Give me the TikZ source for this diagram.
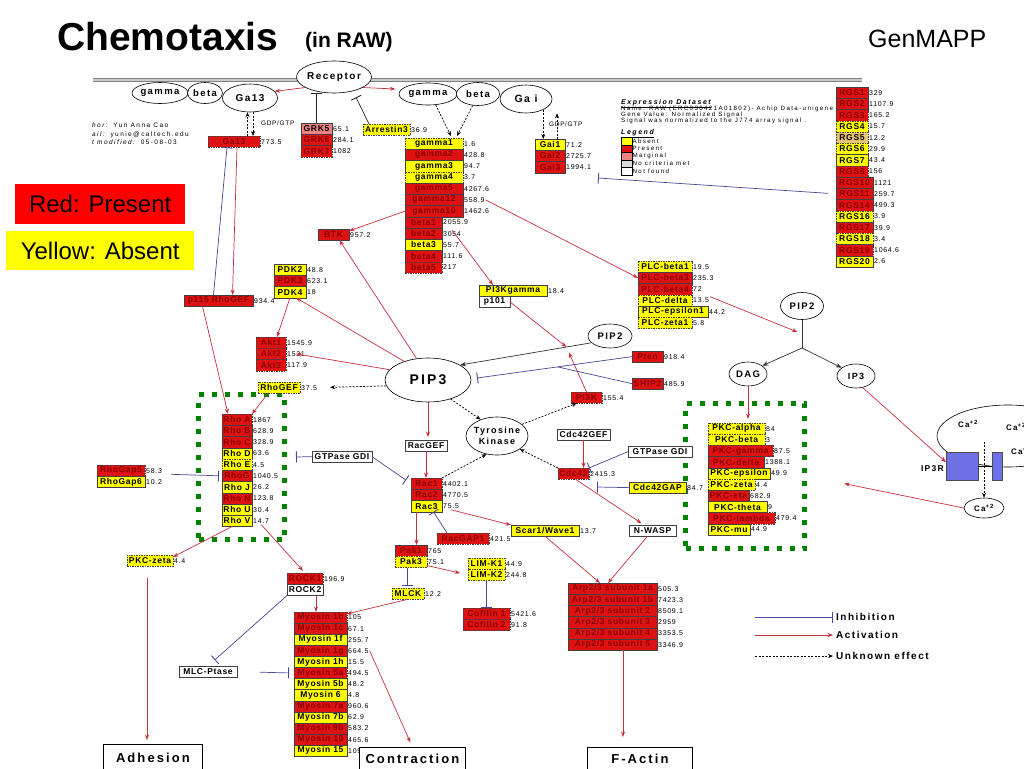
\documentclass[tikz,border=0pt]{standalone}
\usepackage{fontspec}
\setmainfont{Liberation Sans}
\newfontfamily\lab[LetterSpace=8]{Liberation Sans}
\newfontfamily\valf[LetterSpace=10]{Liberation Sans}
\newfontfamily\wide[LetterSpace=15]{Liberation Sans}
\newfontfamily\wider[LetterSpace=16]{Liberation Sans}
\newfontfamily\smallw[LetterSpace=22]{Liberation Sans}
\usetikzlibrary{arrows.meta,shapes.geometric,calc}
\definecolor{pred}{RGB}{222,18,18}
\definecolor{ptext}{RGB}{140,0,0}
\definecolor{yel}{RGB}{255,255,0}
\definecolor{margc}{RGB}{236,130,130}
\definecolor{mytan}{RGB}{232,196,120}
\definecolor{actc}{RGB}{196,48,60}
\definecolor{inhc}{RGB}{72,72,150}
\definecolor{grn}{RGB}{0,130,0}
\definecolor{ip3rc}{RGB}{112,112,230}
\definecolor{membr}{RGB}{130,130,130}
\definecolor{redlegend}{RGB}{255,0,0}
\def\rh{11.25}
\newcommand\gr[8]{%
  \node[gb,#6,minimum width=#5] (#1) at (#2,{#3+\rh*#4}) {#7};%
  \node[val] (#1v) at (#1.east) {#8};}
\begin{document}
\begin{tikzpicture}[x=1pt,y=-1pt,
  gb/.style={draw=black!75, line width=0.5pt, inner sep=0pt, outer sep=0pt, minimum height=\rh, anchor=north west, font=\lab\bfseries\fontsize{8.5}{8.5}\selectfont},
  pres/.style={fill=pred, text=ptext},
  absn/.style={fill=yel, text=black},
  marg/.style={fill=margc, text=black},
  tanc/.style={fill=mytan, text=black},
  wht/.style={fill=white, text=black},
  dsh/.style={dash pattern=on 1.5pt off 1pt},
  val/.style={anchor=west, inner sep=1pt, font=\valf\fontsize{7}{7}\selectfont},
  ell/.style={draw, ellipse, fill=white, inner sep=-3pt, line width=0.6pt, font=\wide\bfseries\fontsize{9.5}{9.5}\selectfont},
  act/.style={draw=actc, line width=0.7pt, -{Stealth[length=5.5pt,width=4pt]}},
  inh/.style={draw=inhc, line width=0.7pt, -{Bar[width=11pt,line width=0.9pt]}},
  inhk/.style={inh, draw=black!85},
  unk/.style={draw=black, line width=0.7pt, dash pattern=on 2pt off 1.5pt, -{Stealth[length=5pt,width=4pt]}},
  cnv/.style={draw=black!80, line width=0.7pt},
  cnva/.style={cnv, -{Stealth[length=6pt,width=4.5pt]}},
  bigbox/.style={draw, line width=0.8pt, fill=white, inner sep=0pt, anchor=north west, font=\wider\bfseries\fontsize{13}{13}\selectfont},
  grnbox/.style={draw=grn, line width=5pt, dash pattern=on 5pt off 8pt, inner sep=0pt, anchor=north west},
  legt/.style={anchor=west, inner sep=0pt, font=\wide\bfseries\fontsize{10}{10}\selectfont},
  small/.style={anchor=base west, inner sep=0pt, font=\smallw\fontsize{6.2}{6.2}\selectfont},
  sw/.style={draw, line width=0.4pt, minimum width=11, minimum height=7.5, inner sep=0pt, anchor=north west}
]
\useasboundingbox (0,0) rectangle (1024,768);
\clip (0,0) rectangle (1024,768);

% ---------- titles ----------
\node[anchor=base west,inner sep=0,font=\bfseries\fontsize{39}{39}\selectfont] (ttl) at (57,51) {Chemotaxis};
\node[anchor=base west,inner sep=0,font=\bfseries\fontsize{21}{21}\selectfont] (sub) at (305,48) {(in RAW)};
\node[anchor=base west,inner sep=0,font=\fontsize{25}{25}\selectfont] (gmp) at (868,48) {GenMAPP};

% ---------- membrane ----------
\coordinate (memL) at (93,80); \coordinate (memR) at (862,80);
\draw[draw=membr, line width=1.1pt, double=black!20, double distance=1.8pt] (memL) -- (memR);

% ---------- author ----------
\node[small,font=\smallw\fontsize{6.5}{6.5}\selectfont] (au1) at (92,127) {\textit{hor:} Yun Anna Cao};
\node[small,font=\smallw\fontsize{6.5}{6.5}\selectfont] (au2) at (92,136) {\textit{ail:} yunie@caltech.edu};
\node[small,font=\smallw\fontsize{6.5}{6.5}\selectfont] (au3) at (92,144) {\textit{t modified:} 05-08-03};

% ---------- colour legend boxes ----------
\node[fill=redlegend, minimum width=170, minimum height=40, anchor=north west, inner sep=0, font=\fontsize{24}{24}\selectfont] (redlg) at (15,184) {Red: Present};
\node[fill=yel, minimum width=188, minimum height=39, anchor=north west, inner sep=0, font=\fontsize{24}{24}\selectfont] (yellg) at (6,231) {Yellow: Absent};

% ---------- expression legend ----------
\node[small,font=\smallw\bfseries\itshape\fontsize{7}{7}\selectfont] (exds) at (621,104) {\underline{Expression Dataset}};
\node[small] (exn) at (621,110) {Name: RAW (ERC030421A01802)- Achip Data-unigene};
\node[small] (exg) at (621,116) {Gene Value: Normalized Signal};
\node[small] (exs) at (621,122) {Signal was normalized to the J774 array signal .};
\node[small,font=\smallw\bfseries\itshape\fontsize{7}{7}\selectfont] (lgd) at (621,134) {\underline{Legend}};
\node[sw,fill=yel] (swA) at (621,137) {};
\node[sw,fill=pred] (swP) at (621,144.5) {};
\node[sw,fill=margc] (swM) at (621,152) {};
\node[sw,fill=black!15] (swN) at (621,159.5) {};
\node[sw,fill=white] (swF) at (621,167) {};
\node[small,anchor=west] (swAt) at (swA.east) {Absent};
\node[small,anchor=west] (swPt) at (swP.east) {Present};
\node[small,anchor=west] (swMt) at (swM.east) {Marginal};
\node[small,anchor=west] (swNt) at (swN.east) {No criteria met};
\node[small,anchor=west] (swFt) at (swF.east) {Not found};

% ---------- ellipses ----------
\node[ell, minimum width=56, minimum height=21] (gamL) at (160,93) {gamma};
\node[ell, minimum width=35, minimum height=21] (betL) at (205,93) {beta};
\node[ell, minimum width=55, minimum height=28, font=\wide\bfseries\fontsize{10}{10}\selectfont] (ga13E) at (250,98) {Ga13};
\node[ell, minimum width=75, minimum height=32, font=\wide\bfseries\fontsize{10}{10}\selectfont] (rec) at (334,77) {Receptor};
\node[ell, minimum width=58, minimum height=22] (gamR) at (428,94) {gamma};
\node[ell, minimum width=43, minimum height=23] (betR) at (478,94) {beta};
\node[ell, minimum width=52, minimum height=28, font=\wide\bfseries\fontsize{10.5}{10.5}\selectfont] (gaiE) at (526,99) {Ga i};
\node[ell, minimum width=86, minimum height=44, font=\wide\bfseries\fontsize{14}{14}\selectfont] (pip3) at (428,380) {PIP3};
\node[ell, minimum width=44, minimum height=24] (pip2m) at (610,336) {PIP2};
\node[ell, minimum width=62, minimum height=38, align=center, font=\wide\bfseries\fontsize{9}{10.5}\selectfont] (tk) at (497,436) {Tyrosine\\Kinase};
\node[ell, minimum width=43, minimum height=27] (pip2R) at (802,306) {PIP2};
\node[ell, minimum width=38, minimum height=24] (dag) at (748,374) {DAG};
\node[ell, minimum width=38, minimum height=24, font=\wide\bfseries\fontsize{9}{9}\selectfont] (ip3) at (856,376) {IP3};

% ---------- green groups ----------
\node[grnbox, minimum width=86, minimum height=145] (grnL) at (196,392) {};
\node[grnbox, minimum width=119, minimum height=145] (grnR) at (683,401) {};

% ---------- gene boxes ----------
\gr{ga13b}{208}{136}{0}{52}{pres,dsh}{Ga13}{773.5}
\gr{grk5}{301}{123}{0}{31}{marg}{GRK5}{65.1}
\gr{grk6}{301}{123}{1}{31}{pres}{GRK6}{284.1}
\gr{grk7}{301}{123}{2}{31}{pres,dsh}{GRK7}{1082}
\gr{arr}{363}{124}{0}{47}{absn,dsh}{Arrestin3}{36.9}

\gr{g1}{405}{138}{0}{58}{absn,dsh}{gamma1}{1.6}
\gr{g2}{405}{138}{1}{58}{pres}{gamma2}{428.8}
\gr{g3}{405}{138}{2}{58}{absn}{gamma3}{94.7}
\gr{g4}{405}{138}{3}{58}{absn,dsh}{gamma4}{3.7}
\gr{g5}{405}{138}{4}{58}{pres}{gamma5}{4267.6}
\gr{g12}{405}{138}{5}{58}{pres}{gamma12}{558.9}
\gr{g10}{405}{138}{6}{58}{pres}{gamma10}{1462.6}
\gr{b1}{405}{138}{7}{37}{pres}{beta1}{2055.9}
\gr{b2}{405}{138}{8}{37}{pres}{beta2}{3054}
\gr{b3}{405}{138}{9}{37}{absn}{beta3}{55.7}
\gr{b4}{405}{138}{10}{37}{pres}{beta4}{111.6}
\gr{b5}{405}{138}{11}{37}{pres,dsh}{beta5}{217}

\gr{gai1}{535}{139}{0}{30}{absn}{Gai1}{71.2}
\gr{gai2}{535}{139}{1}{30}{pres}{Gai2}{2725.7}
\gr{gai3}{535}{139}{2}{30}{pres}{Gai3}{1994.1}

\gr{rgs1}{836}{87}{0}{32}{pres}{RGS1}{329}
\gr{rgs2}{836}{87}{1}{32}{pres}{RGS2}{1107.9}
\gr{rgs3}{836}{87}{2}{32}{pres,dsh}{RGS3}{165.2}
\gr{rgs4}{836}{87}{3}{32}{absn,dsh}{RGS4}{15.7}
\gr{rgs5}{836}{87}{4}{32}{tanc,dsh}{RGS5}{12.2}
\gr{rgs6}{836}{87}{5}{32}{absn,dsh}{RGS6}{29.9}
\gr{rgs7}{836}{87}{6}{32}{absn}{RGS7}{43.4}
\gr{rgs8}{836}{87}{7}{32}{pres,dsh}{RGS8}{156}
\gr{rgs10}{836}{87}{8}{37}{pres}{RGS10}{1121}
\gr{rgs11}{836}{87}{9}{37}{pres}{RGS11}{259.7}
\gr{rgs14}{836}{87}{10}{37}{pres}{RGS14}{499.3}
\gr{rgs16}{836}{87}{11}{37}{absn,dsh}{RGS16}{3.9}
\gr{rgs17}{836}{87}{12}{37}{pres}{RGS17}{39.9}
\gr{rgs18}{836}{87}{13}{37}{absn,dsh}{RGS18}{3.4}
\gr{rgs19}{836}{87}{14}{37}{pres,dsh}{RGS19}{1064.6}
\gr{rgs20}{836}{87}{15}{37}{absn}{RGS20}{2.6}

\gr{btk}{318}{229}{0}{31}{pres}{BTK}{957.2}
\gr{pdk2}{274}{264}{0}{32}{absn}{PDK2}{48.8}
\gr{pdk3}{274}{264}{1}{32}{pres}{PDK3}{623.1}
\gr{pdk4}{274}{264}{2}{32}{absn}{PDK4}{18}
\gr{akt1}{256}{337}{0}{30}{pres,dsh}{Akt1}{1545.9}
\gr{akt2}{256}{337}{1}{30}{pres,dsh}{Akt2}{1521}
\gr{akt3}{256}{337}{2}{30}{pres,dsh}{Akt3}{117.9}
\gr{rhogef}{258}{382}{0}{42}{absn,dsh}{RhoGEF}{37.5}
\gr{p115}{184}{295}{0}{69}{pres}{p115 RhoGEF}{934.4}

\gr{pi3kg}{479}{285}{0}{68}{absn}{PI3Kgamma}{18.4}
\node[gb,wht,minimum width=31] (p101) at (479,296.25) {p101};

\gr{plcb1}{638}{261}{0}{54}{absn,dsh}{PLC-beta1}{19.5}
\gr{plcb3}{638}{261}{1}{54}{pres}{PLC-beta3}{235.3}
\gr{plcb4}{638}{261}{2}{54}{pres,dsh}{PLC-beta4}{72}
\gr{plcd}{638}{261}{3}{54}{absn,dsh}{PLC-delta}{13.5}
\gr{plce}{638}{261}{4}{70}{absn}{PLC-epsilon1}{44.2}
\gr{plcz}{638}{261}{5}{54}{absn,dsh}{PLC-zeta1}{5.8}

\gr{pten}{632}{351}{0}{31}{pres}{Pten}{918.4}
\gr{ship2}{632}{378}{0}{31}{pres}{SHIP2}{485.9}
\gr{pi3k}{571}{392}{0}{31}{pres,dsh}{PI3K}{155.4}

\node[gb,wht,minimum width=42] (racgef) at (405,440) {RacGEF};
\gr{rac1}{411}{478}{0}{31}{pres,dsh}{Rac1}{4402.1}
\gr{rac2}{411}{478}{1}{31}{pres}{Rac2}{4770.5}
\gr{rac3}{411}{478}{2}{31}{absn}{Rac3}{75.5}
\node[gb,wht,minimum width=60] (gdiL) at (312,451) {GTPase GDI};

\node[gb,wht,minimum width=53] (cdc42gef) at (557,429) {Cdc42GEF};
\gr{cdc42}{558}{468}{0}{31}{pres,dsh}{Cdc42}{2415.3}
\node[gb,wht,minimum width=64] (gdiR) at (628,446) {GTPase GDI};
\gr{gap}{629}{482}{0}{57}{absn}{Cdc42GAP}{84.7}
\node[gb,wht,minimum width=47] (nwasp) at (629,525) {N-WASP};

\gr{scar}{511}{525}{0}{68}{absn}{Scar1/Wave1}{13.7}
\gr{racgap}{437}{533}{0}{52}{pres,dsh}{RacGAP1}{421.5}
\gr{pak1}{395}{545}{0}{32}{pres}{Pak1}{765}
\gr{pak3}{395}{545}{1}{32}{absn,dsh}{Pak3}{75.1}
\gr{limk1}{468}{558}{0}{37}{absn,dsh}{LIM-K1}{44.9}
\gr{limk2}{468}{558}{1}{37}{absn,dsh}{LIM-K2}{244.8}
\gr{cof1}{463}{608}{0}{47}{pres,dsh}{Cofilin 1}{5421.6}
\gr{cof2}{463}{608}{1}{47}{pres,dsh}{Cofilin 2}{91.8}
\gr{mlck}{392}{588}{0}{32}{absn,dsh}{MLCK}{12.2}

\gr{rhogap5}{97}{465}{0}{48}{pres,dsh}{RhoGap5}{58.3}
\gr{rhogap6}{97}{465}{1}{48}{absn}{RhoGap6}{10.2}
\gr{rhoA}{222}{414}{0}{30}{pres,dsh}{Rho A}{1867}
\gr{rhoB}{222}{414}{1}{30}{pres}{Rho B}{628.9}
\gr{rhoC}{222}{414}{2}{30}{pres}{Rho C}{328.9}
\gr{rhoD}{222}{414}{3}{30}{absn}{Rho D}{63.6}
\gr{rhoE}{222}{414}{4}{30}{absn,dsh}{Rho E}{4.5}
\gr{rhoG}{222}{414}{5}{30}{pres}{RhoG}{1040.5}
\gr{rhoJ}{222}{414}{6}{30}{absn}{Rho J}{26.2}
\gr{rhoN}{222}{414}{7}{30}{pres}{Rho N}{123.8}
\gr{rhoU}{222}{414}{8}{30}{absn}{Rho U}{30.4}
\gr{rhoV}{222}{414}{9}{30}{absn}{Rho V}{14.7}

\gr{pkcz}{127}{555}{0}{46}{absn,dsh}{PKC-zeta}{4.4}
\gr{rock1}{287}{573}{0}{36}{pres,dsh}{ROCK1}{196.9}
\node[gb,wht,minimum width=36] (rock2) at (287,584.25) {ROCK2};
\node[gb,wht,minimum width=58] (mlc) at (179,666) {MLC-Ptase};

\def\rh{11.1}
\gr{myo1b}{294}{612}{0}{53}{pres,dsh}{Myosin 1b}{105}
\gr{myo1c}{294}{612}{1}{53}{pres}{Myosin 1c}{67.1}
\gr{myo1f}{294}{612}{2}{53}{absn}{Myosin 1f}{255.7}
\gr{myo1g}{294}{612}{3}{53}{pres}{Myosin 1g}{664.5}
\gr{myo1h}{294}{612}{4}{53}{absn}{Myosin 1h}{15.5}
\gr{myo5a}{294}{612}{5}{53}{pres,dsh}{Myosin 5a}{494.5}
\gr{myo5b}{294}{612}{6}{53}{absn}{Myosin 5b}{48.2}
\gr{myo6}{294}{612}{7}{53}{absn}{Myosin 6}{4.8}
\gr{myo7a}{294}{612}{8}{53}{pres}{Myosin 7a}{960.6}
\gr{myo7b}{294}{612}{9}{53}{absn}{Myosin 7b}{62.9}
\gr{myo9b}{294}{612}{10}{53}{pres}{Myosin 9b}{583.2}
\gr{myo10}{294}{612}{11}{53}{pres}{Myosin 10}{465.6}
\gr{myo15}{294}{612}{12}{53}{absn}{Myosin 15}{109.2}

\def\rh{11.2}
\gr{arp1a}{568}{583}{0}{89}{pres}{Arp2/3 subunit 1a}{505.3}
\gr{arp1b}{568}{583}{1}{89}{pres}{Arp2/3 subunit 1b}{7423.3}
\gr{arp2}{568}{583}{2}{89}{pres}{Arp2/3 subunit 2}{8509.1}
\gr{arp3}{568}{583}{3}{89}{pres}{Arp2/3 subunit 3}{2959}
\gr{arp4}{568}{583}{4}{89}{pres}{Arp2/3 subunit 4}{3353.5}
\gr{arp5}{568}{583}{5}{89}{pres}{Arp2/3 subunit 5}{3346.9}

\gr{pkca}{708}{423}{0}{57}{absn,dsh}{PKC-alpha}{84}
\gr{pkcb}{708}{423}{1}{57}{absn,dsh}{PKC-beta}{3}
\gr{pkcg}{708}{423}{2}{65}{pres,dsh}{PKC-gamma}{87.5}
\gr{pkcd}{708}{423}{3}{56}{pres}{PKC-delta}{1388.1}
\gr{pkce}{708}{423}{4}{62}{absn}{PKC-epsilon}{49.9}
\gr{pkczr}{708}{423}{5}{47}{absn,dsh}{PKC-zeta}{4.4}
\gr{pkceta}{708}{423}{6}{41}{pres}{PKC-eta}{682.9}
\gr{pkct}{708}{423}{7}{59}{absn}{PKC-theta}{9}
\gr{pkcl}{708}{423}{8}{67}{pres,dsh}{PKC-lambda}{479.4}
\gr{pkcm}{708}{423}{9}{42}{absn}{PKC-mu}{44.9}
\def\rh{11.25}

% ---------- outcome boxes ----------
\node[bigbox, minimum width=99, minimum height=26] (adh) at (103,744) {Adhesion};
\node[bigbox, minimum width=106, minimum height=22] (contr) at (359,747) {Contraction};
\node[bigbox, minimum width=105, minimum height=22] (fact) at (587,747) {F-Actin};

% ---------- calcium ----------
\node[draw, ellipse, minimum width=142, minimum height=62, inner sep=0, line width=0.6pt] (caE) at (1008,436) {};
\node[draw=black!70, fill=ip3rc, minimum width=32, minimum height=28, anchor=north west, inner sep=0] (ip3r) at (946,452) {};
\node[draw=black!70, fill=ip3rc, minimum width=10, minimum height=28, anchor=north west, inner sep=0] (ip3r2) at (992,452) {};
\draw[line width=0.6pt] (ip3r.east) -- (ip3r2.west);
\node[anchor=east, inner sep=0, font=\wide\bfseries\fontsize{8.5}{8.5}\selectfont] (ip3rt) at (944,469) {IP3R};
\node[inner sep=0, font=\wide\bfseries\fontsize{8}{8}\selectfont] (ca1) at (968,424) {Ca\textsuperscript{+2}};
\node[inner sep=0, font=\wide\bfseries\fontsize{8}{8}\selectfont] (ca2) at (1016,427) {Ca\textsuperscript{+2}};
\node[inner sep=0, font=\wide\bfseries\fontsize{8}{8}\selectfont] (ca3) at (1021,451) {Ca\textsuperscript{+2}};
\node[ell, minimum width=40, minimum height=20, font=\wide\bfseries\fontsize{8}{8}\selectfont] (caS) at (984,508) {Ca\textsuperscript{+2}};

% ---------- GDP/GTP ----------
\node[anchor=west, inner sep=0, font=\valf\fontsize{6.5}{6.5}\selectfont] (gdp1) at (261,123) {GDP/GTP};
\node[anchor=west, inner sep=0, font=\valf\fontsize{6.5}{6.5}\selectfont] (gdp2) at (549,124) {GDP/GTP};

% ---------- connectors ----------
\draw[act] (rec.200) -- (ga13E.15);
\draw[act, shorten >=6pt] (rec.-20) -- (gamR.170);
\draw[inhk] (grk5.north) -- (grk5.north |- rec.south);
\draw[inhk] ([xshift=6pt]arr.north west) -- ([shift={(22,4)}]rec.south);

\draw[unk] (ga13E.-100 |- ga13b.north) -- (ga13E.-100);
\draw[unk] (ga13E.-78) -- (ga13E.-78 |- ga13b.north);
\draw[unk] (gamR.-55) -- ([shift={(17,-2)}]g1.north);
\draw[unk] (betR.-115) -- ([shift={(23,-2)}]g1.north);
\draw[unk] (gaiE.-32) -- (gaiE.-32 |- gai1.north);
\coordinate (gaiup) at ([xshift=22pt]gai1.north west);
\draw[unk] (gaiup) -- (gaiup |- gaiE.south);

\coordinate (rgsbar) at (598,178);
\draw[inh, shorten <=8pt] (rgs11.west) -- (rgsbar);

\draw[inh] ([xshift=-5pt]p115.north) -- ([xshift=-7pt]ga13b.south);
\draw[act] ([xshift=3pt]ga13b.south) -- ([xshift=14pt]p115.north);
\draw[act] ([xshift=-16pt]p115.south) -- ([xshift=6pt]rhoA.north west);
\draw[act] ([xshift=10pt]rhogef.south west) -- (rhoA.north east);

\draw[act] (g10.west) -- (btkv.north west);
\draw[act] (b2v.north) -- ([xshift=14pt]pi3kg.north west);
\draw[act] (g12v.east) -- (plcb3.west);

\draw[cnva] (pip2m.200) -- (pip3.25);
\coordinate (conv) at ($(pip2m.200)!0.19!(pip3.25)$);
\draw[act] (p101.east) -- (conv);
\draw[act, shorten >=6pt] (pi3k.north) -- (conv);

\coordinate (pip3bar) at (477,378);
\draw[inh] (pten.west) -- (pip3bar);
\coordinate (pjunc) at ($(pten.west)!0.48!(pip3bar)$);
\draw[draw=inhc, line width=0.7pt] (ship2.west) -- (pjunc);

\draw[act] (pip3.118) -- ([xshift=6pt]btk.south);
\draw[act] (pip3.142) -- ([xshift=-10pt]pdk4.south east);
\draw[act] (pip3.165) -- (akt2v.center);
\draw[act, shorten >=3pt] (pip3.south) -- (pip3.south |- racgef.north);
\draw[unk, shorten >=12pt] (pip3.188) -- (rhogefv.east);
\draw[act] (pdk4.south) -- ([xshift=6pt]akt1.north);

\draw[unk] (pip3.-40) -- (tk.135);
\draw[unk] (tk.25) -- (pi3k.210);
\draw[unk] (rac1.north east) -- (tk.240);
\draw[unk] (cdc42.north west) -- (tk.-30);

\draw[act] (racgef.south) -- (racgef.south |- rac1.north);
\coordinate (gdibar) at (296,457);
\draw[inh] (gdiL.west) -- (gdibar);
\draw[inh, shorten >=6pt] (gdiL.east) -- (rac1.west);
\draw[inh, shorten >=3pt] ($(rhogap5v.south east)+(8,0)$) -- (rhoG.west);

\draw[act] (cdc42gef.south) -- (cdc42gef.south |- cdc42.north);
\draw[inh] (gdiR.west) -- (cdc42.north east);
\coordinate (gapbar) at (597,487);
\draw[inh] (gap.west) -- (gapbar);
\draw[act, shorten >=3pt] ([xshift=2pt]cdc42.south) -- ([xshift=15pt]nwasp.north west);

\draw[act] (rac3v.south) -- (scar.north west);
\draw[inh] ([xshift=10pt]racgap.north west) -- ([xshift=7pt]rac3.south);
\coordinate (racdn) at ([xshift=-10pt]rac3.south);
\draw[act] (racdn) -- (racdn |- pak1.north);
\draw[act, shorten >=8pt] (pak3v.south west) -- (limk2.west);
\coordinate (pakdn) at ([xshift=-4pt]pak3.south);
\draw[inh, shorten >=2pt] (pakdn) -- (pakdn |- mlck.north);
\draw[inh] (limk2.south) -- (cof1.north);
\draw[act] (mlck.south) -- (myo1bv.north west);

\draw[act, shorten >=3pt] (rhoVv.south) -- (rock1.north);
\draw[act] ([xshift=-5pt]rhoV.south) -- (pkczv.north west);
\coordinate (pkzdn) at ([xshift=-3pt]pkcz.south);
\draw[act, shorten <=12pt, shorten >=4pt] (pkzdn) -- (pkzdn |- adh.north);

\coordinate (rockdn) at ([xshift=11pt]rock2.south);
\draw[act] (rockdn) -- (rockdn |- myo1b.north);
\draw[inh, shorten >=9pt] (rock2.south west) -- (mlc.north);
\draw[inh, shorten <=23pt, shorten >=5pt] (mlc.east) -- (myo5a.west);
\draw[act, shorten >=5pt] (myo1gv.east) -- (contr.north);

\draw[act] (scar.south) -- ([xshift=32pt]arp1a.north west);
\draw[act] ([xshift=-5pt]nwasp.south) -- ([xshift=40pt]arp1a.north west);
\coordinate (arpdn) at ([xshift=55pt]arp5.south west);
\draw[act, shorten >=10pt] (arpdn) -- (arpdn |- fact.north);

\coordinate (junc) at (802,348);
\draw[cnv] (pip2R.south) -- (junc);
\coordinate (plcpt) at ($(pip2R.south)!0.5!(junc)$);
\draw[act, shorten >=5pt] (plcdv.north east) -- (plcpt);
\draw[cnva] (junc) -- (dag.30);
\draw[cnva] (junc) -- (ip3.150);
\draw[act, shorten >=4pt] (dag.south) -- (dag.south |- pkca.north);

\draw[act] (ip3.-60) -- ([yshift=4pt]ip3r.west);
\coordinate (caIn) at ([yshift=56pt]caS.north);
\draw[unk] (caIn) -- (caS.north);
\draw[act, shorten >=38pt] (caS.west) -- (grnR.east);

% ---------- legend ----------
\node[legt] (tInh) at (836,617) {Inhibition};
\node[legt] (tAct) at (836,635) {Activation};
\node[legt] (tUnk) at (836,656) {Unknown effect};
\coordinate (lInh) at (755,617);
\coordinate (lAct) at (755,635);
\coordinate (lUnk) at (755,656);
\draw[inh, shorten >=3pt] (lInh) -- (tInh.west);
\draw[act, shorten >=3pt] (lAct) -- (tAct.west);
\draw[unk, shorten >=3pt] (lUnk) -- (tUnk.west);
\end{tikzpicture}
\end{document}
